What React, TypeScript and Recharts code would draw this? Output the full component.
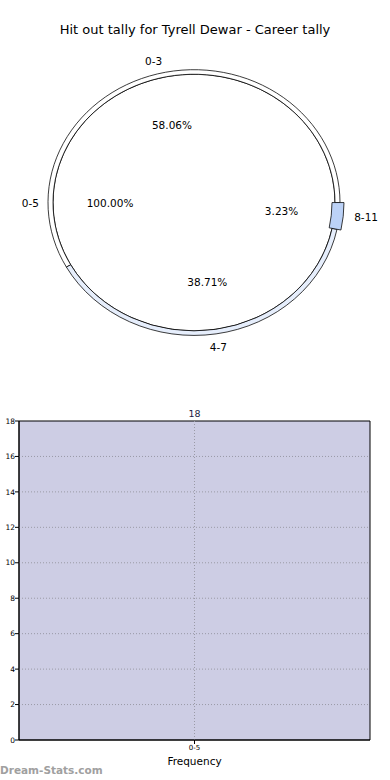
import { PieChart, Pie, Cell, Sector, BarChart, Bar, XAxis, YAxis, ReferenceLine, LabelList, Label } from 'recharts'

// pie: inner ring is the 0-5 bin, outer ring splits it further
const innerNames = ['0-5']
const innerValues = [18]
const outerNames = ['0-3', '4-7', '8-11']
const outerValues = [18, 12, 1]
const outerColors = ['#ffffff', '#e6eefc', '#bcd2f7']

// frequency bars
const barCategories = ['0-5']
const barValues = [18]
const yTicks = [0, 2, 4, 6, 8, 10, 12, 14, 16, 18]

const innerData = innerNames.map((name, i) => ({ name, value: innerValues[i] }))
const outerData = outerNames.map((name, i) => ({ name, value: outerValues[i] }))
const barData = barCategories.map((label, i) => ({ label, value: barValues[i] }))

const SQUASH = 0.91
const RAD = Math.PI / 180
const font = 'DejaVu Sans, sans-serif'

function pieLabel(nameR: number, pctR: number) {
  return (p: any) => {
    const a = p.midAngle * RAD
    const cos = Math.cos(a)
    const sin = Math.sin(a)
    const anchor = Math.abs(cos) < 0.35 ? 'middle' : cos > 0 ? 'start' : 'end'
    const t = (x: number, y: number) => `translate(${x},${y}) scale(1,${1 / SQUASH})`
    const name = p.payload?.name ?? p.name
    return (
      <g>
        <text transform={t(p.cx + nameR * cos, p.cy - nameR * sin)} textAnchor={anchor} dominantBaseline="central"
          fontSize={10.5} fill="#000" fontFamily={font}>{name}</text>
        <text transform={t(p.cx + pctR * cos, p.cy - pctR * sin)} textAnchor="middle" dominantBaseline="central"
          fontSize={10.5} fill="#000" fontFamily={font}>{(p.percent * 100).toFixed(2)}%</text>
      </g>
    )
  }
}

// full circles get drawn as a circle so there's no seam line, the small slice gets pulled out a bit
function sliceShape(props: any) {
  const span = Math.abs(props.endAngle - props.startAngle)
  if (span >= 359.9) {
    return <circle cx={props.cx} cy={props.cy} r={props.outerRadius} fill={props.fill} stroke={props.stroke} strokeWidth={props.strokeWidth} />
  }
  const name = props.payload?.name ?? props.name
  if (name === '8-11') {
    return <Sector {...props} innerRadius={props.innerRadius - 3} outerRadius={props.outerRadius + 4} />
  }
  return <Sector {...props} />
}

export default function App() {
  return (
    <div style={{ position: 'absolute', left: 0, top: 0, width: 390, height: 780, background: '#fff', fontFamily: font }}>
      <div style={{ position: 'absolute', top: 22, left: 0, width: 390, textAlign: 'center', fontSize: 13, color: '#000' }}>
        Hit out tally for Tyrell Dewar - Career tally
      </div>

      <div style={{ position: 'absolute', top: 0, left: 0, transform: `scaleY(${SQUASH})`, transformOrigin: '0px 198px' }}>
        <PieChart width={390} height={400}>
          <Pie data={innerData} dataKey="value" nameKey="name" cx={187.5} cy={200} outerRadius={143}
            startAngle={0} endAngle={360} fill="#7a7a7a" stroke="none" label={false} labelLine={false}
            shape={sliceShape} isAnimationActive={false} />
          <Pie data={innerData} dataKey="value" nameKey="name" cx={189} cy={198} outerRadius={141}
            startAngle={0} endAngle={360} fill="#ffffff" stroke="#000" strokeWidth={0.8}
            label={pieLabel(155, 84)} labelLine={false} shape={sliceShape} isAnimationActive={false} />
          <Pie data={outerData} dataKey="value" nameKey="name" cx={189} cy={198} innerRadius={141} outerRadius={146}
            startAngle={0} endAngle={360} stroke="#000" strokeWidth={0.8}
            label={pieLabel(161, 88)} labelLine={false} shape={sliceShape} isAnimationActive={false}>
            {outerData.map((d, i) => <Cell key={d.name} fill={outerColors[i]} />)}
          </Pie>
        </PieChart>
      </div>

      <div style={{ position: 'absolute', top: 400, left: 0 }}>
        <BarChart width={390} height={380} data={barData} barCategoryGap={0} margin={{ top: 21, right: 20, bottom: 0, left: 0 }}>
          <XAxis dataKey="label" height={40} tick={{ fill: '#000', fontSize: 7, fontFamily: font }} tickSize={4} tickMargin={1}
            tickLine={{ stroke: '#000' }} axisLine={{ stroke: '#000' }}>
            <Label value="Frequency" position="insideBottom" offset={15} style={{ fill: '#000', fontSize: 10.5, fontFamily: font }} />
          </XAxis>
          <YAxis domain={[0, 18]} ticks={yTicks} width={19} interval={0} tick={{ fill: '#000', fontSize: 7.5, fontFamily: font }}
            tickSize={4} tickMargin={0} tickLine={{ stroke: '#000' }} axisLine={{ stroke: '#000' }}>
            <Label value="Hit out Tally" angle={-90} position="insideLeft" offset={-8} style={{ fill: '#000', fontSize: 10, fontFamily: font, textAnchor: 'middle' }} />
          </YAxis>
          <Bar dataKey="value" fill="#cdcde4" stroke="#000" strokeWidth={1} isAnimationActive={false}>
            <LabelList dataKey="value" position="top" offset={4} style={{ fill: '#222244', fontSize: 9.5, fontFamily: font }} />
          </Bar>
          {yTicks.filter(t => t > 0 && t < 18).map(t => (
            <ReferenceLine key={t} y={t} stroke="#9a9aa6" strokeDasharray="1 2" />
          ))}
          {barCategories.map(c => (
            <ReferenceLine key={c} x={c} stroke="#9a9aa6" strokeDasharray="1 2" />
          ))}
        </BarChart>
      </div>

      <div style={{ position: 'absolute', top: 764, left: 0, fontSize: 10.5, fontWeight: 'bold', color: '#a0a0a0' }}>
        Dream-Stats.com
      </div>
    </div>
  )
}
